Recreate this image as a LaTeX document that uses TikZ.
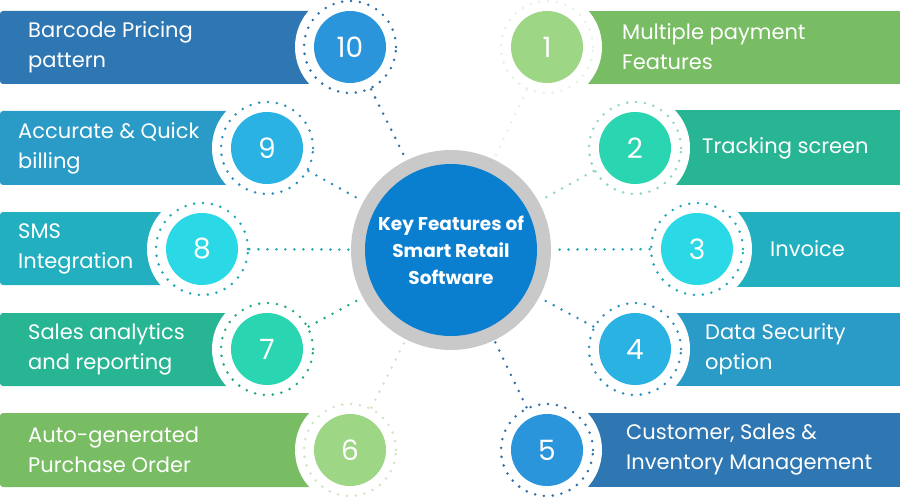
\documentclass[tikz,border=0pt]{standalone}
\usepackage{fontspec}
\setmainfont{Poppins}

\definecolor{barA}{HTML}{2F77B2}
\definecolor{circA}{HTML}{2A95DB}
\definecolor{dotA}{HTML}{2C6FA9}
\definecolor{barB}{HTML}{2A9AC6}
\definecolor{circB}{HTML}{29B2E2}
\definecolor{dotB}{HTML}{2A8EBE}
\definecolor{barC}{HTML}{22AFBF}
\definecolor{circC}{HTML}{2AD9E5}
\definecolor{dotC}{HTML}{1FA8B6}
\definecolor{barD}{HTML}{27B593}
\definecolor{circD}{HTML}{2AD5B1}
\definecolor{dotD}{HTML}{22A783}
\definecolor{dotDlight}{HTML}{8CD6C4}
\definecolor{barE}{HTML}{78BD63}
\definecolor{circE}{HTML}{9DD684}
\definecolor{dotE}{HTML}{CFE6C4}
\definecolor{dotElight}{HTML}{E6F2E0}
\definecolor{hubgray}{HTML}{C9C9C9}
\definecolor{hubblue}{HTML}{0A7ECF}

\begin{document}
\begin{tikzpicture}[x=1pt,y=-1pt,
	numc/.style={circle, fill=#1, minimum size=72pt, inner sep=0pt, text=white, font=\fontsize{28}{28}\selectfont},
	ring/.style={circle, draw=#1, minimum size=92pt, inner sep=0pt, line width=2.8pt, line cap=round, dash pattern=on 0pt off 8.9pt},
	link/.style={draw=#1, line width=2.8pt, line cap=round, dash pattern=on 0pt off 9pt},
	featxt/.style={anchor=west, inner sep=0pt, align=left, text=white, font=\fontsize{21}{30}\selectfont}]
	\useasboundingbox (0,0) rectangle (900,500);
	% left bars
	\fill[barA, rounded corners=3pt] (0,11) rectangle (320,84);
	\fill[barB, rounded corners=3pt] (0,111) rectangle (240,185);
	\fill[barC, rounded corners=3pt] (0,212) rectangle (175,285);
	\fill[barD, rounded corners=3pt] (0,313) rectangle (240,386);
	\fill[barE, rounded corners=3pt] (0,413) rectangle (320,487);
	% right bars
	\fill[barE] (580,11) rectangle (900,84);
	\fill[barD] (660,110) rectangle (900,185);
	\fill[barC] (720,212) rectangle (900,287);
	\fill[barB] (660,313) rectangle (900,386);
	\fill[barA] (580,413) rectangle (900,487);
	% white cut-outs
	\fill[white] (350,47) circle (55pt);
	\fill[white] (267,148) circle (55pt);
	\fill[white] (202,249) circle (55pt);
	\fill[white] (267,349) circle (55pt);
	\fill[white] (350,450) circle (55pt);
	\fill[white] (547,47) circle (55pt);
	\fill[white] (635,148) circle (55pt);
	\fill[white] (697,249) circle (55pt);
	\fill[white] (635,349) circle (55pt);
	\fill[white] (547,450) circle (55pt);
	% hub
	\node[circle, fill=hubgray, minimum size=200pt, inner sep=0pt] (hub) at (451,250) {};
	\node[circle, fill=hubblue, minimum size=172pt, inner sep=0pt, align=center, text=white,
		font=\bfseries\fontsize{18.5}{27}\selectfont] (hubtext) at (hub) {Key Features of\\Smart Retail\\Software};
	% numbered circles
	\node[ring=dotElight] (r1) at (547,47) {};
	\node[ring=dotDlight] (r2) at (635,148) {};
	\node[ring=dotC] (r3) at (697,249) {};
	\node[ring=dotB] (r4) at (635,349) {};
	\node[ring=dotA] (r5) at (547,450) {};
	\node[ring=dotE] (r6) at (350,450) {};
	\node[ring=dotD] (r7) at (267,349) {};
	\node[ring=dotC] (r8) at (202,249) {};
	\node[ring=dotB] (r9) at (267,148) {};
	\node[ring=dotA] (r10) at (350,47) {};
	\node[numc=circE] (n1) at (r1) {1};
	\node[numc=circD] (n2) at (r2) {2};
	\node[numc=circC] (n3) at (r3) {3};
	\node[numc=circB] (n4) at (r4) {4};
	\node[numc=circA] (n5) at (r5) {5};
	\node[numc=circE] (n6) at (r6) {6};
	\node[numc=circD] (n7) at (r7) {7};
	\node[numc=circC] (n8) at (r8) {8};
	\node[numc=circB] (n9) at (r9) {9};
	\node[numc=circA] (n10) at (r10) {10};
	% links
	\draw[link=dotElight] (r1) -- (hub);
	\draw[link=dotDlight] (r2) -- (hub);
	\draw[link=dotC] (r3) -- (hub);
	\draw[link=dotB] (r4) -- (hub);
	\draw[link=dotA] (r5) -- (hub);
	\draw[link=dotE] (r6) -- (hub);
	\draw[link=dotD] (r7) -- (hub);
	\draw[link=dotC] (r8) -- (hub);
	\draw[link=dotB] (r9) -- (hub);
	\draw[link=dotA] (r10) -- (hub);
	% texts
	\node[featxt] (t1) at (622,47) {Multiple payment\\Features};
	\node[featxt] (t2) at (702,148) {Tracking screen};
	\node[featxt] (t3) at (770,249) {Invoice};
	\node[featxt] (t4) at (705,349) {Data Security\\option};
	\node[featxt] (t5) at (626,450) {Customer, Sales \&\\Inventory Management};
	\node[featxt] (t6) at (28,450) {Auto-generated\\Purchase Order};
	\node[featxt] (t7) at (28,349) {Sales analytics\\and reporting};
	\node[featxt] (t8) at (18,249) {SMS\\Integration};
	\node[featxt] (t9) at (18,148) {Accurate \& Quick\\billing};
	\node[featxt] (t10) at (28,47) {Barcode Pricing\\pattern};
\end{tikzpicture}
\end{document}
